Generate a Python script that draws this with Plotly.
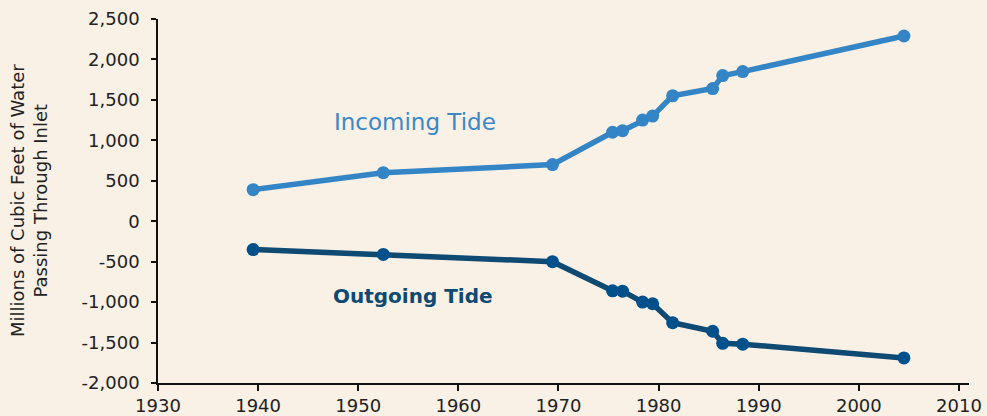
import plotly.graph_objects as go

years = [1939.5, 1952.5, 1969.4, 1975.4, 1976.4, 1978.4, 1979.4, 1981.4, 1985.4, 1986.4, 1988.4, 2004.5]
incoming = [390, 600, 700, 1100, 1120, 1250, 1300, 1550, 1640, 1800, 1850, 2290]
outgoing = [-350, -410, -500, -860, -865, -1000, -1020, -1255, -1360, -1510, -1520, -1690]
y_ticks = [-2000, -1500, -1000, -500, 0, 500, 1000, 1500, 2000, 2500]
x_ticks = [1930, 1940, 1950, 1960, 1970, 1980, 1990, 2000, 2010]

bg = "#f9f0e6"
font_family = "DejaVu Sans, sans-serif"

fig = go.Figure()
fig.add_trace(go.Scatter(
    x=years, y=incoming, mode="lines+markers", name="Incoming Tide",
    line=dict(color="#3385c6", width=5.5),
    marker=dict(color="#3385c6", size=13),
    cliponaxis=False,
))
fig.add_trace(go.Scatter(
    x=years, y=outgoing, mode="lines+markers", name="Outgoing Tide",
    line=dict(color="#0e4a72", width=5.5),
    marker=dict(color="#00508c", size=13),
    cliponaxis=False,
))

fig.add_annotation(x=1955.7, y=1230, xref="x", yref="y", text="Incoming Tide",
                   showarrow=False, font=dict(family=font_family, size=23, color="#3a89c6"))
fig.add_annotation(x=1955.5, y=-920, xref="x", yref="y", text="<b>Outgoing Tide</b>",
                   showarrow=False, font=dict(family=font_family, size=20, color="#0f4a72"))
fig.add_annotation(x=-0.159, y=0.5, xref="paper", yref="paper",
                   text="Millions of Cubic Feet of Water<br>Passing Through Inlet",
                   textangle=-90, showarrow=False, xanchor="center", yanchor="middle",
                   font=dict(family=font_family, size=18, color="#222222"))

fig.update_layout(
    width=987, height=416,
    margin=dict(l=158, r=18, t=19, b=33, autoexpand=False),
    paper_bgcolor=bg, plot_bgcolor=bg,
    showlegend=False,
    font=dict(family=font_family, size=18, color="#222222"),
)
fig.update_xaxes(
    range=[1930, 2011], tickvals=x_ticks, ticktext=[str(v) for v in x_ticks],
    showgrid=False, zeroline=False, showline=True, linecolor="#111111", linewidth=1.5,
    ticks="outside", ticklen=6, tickcolor="#111111", tickwidth=1.5,
)
fig.update_yaxes(
    range=[-2000, 2500], tickvals=y_ticks, ticktext=[f"{v:,}" for v in y_ticks],
    showgrid=False, zeroline=False, showline=True, linecolor="#111111", linewidth=1.5,
    ticks="outside", ticklen=5, tickcolor="#111111", tickwidth=1.5,
    ticklabelstandoff=8,
)

fig.write_html(
    "out.html",
    config={"displayModeBar": False},
    post_script="document.body.style.margin='0';document.body.style.background='%s';" % bg,
)
